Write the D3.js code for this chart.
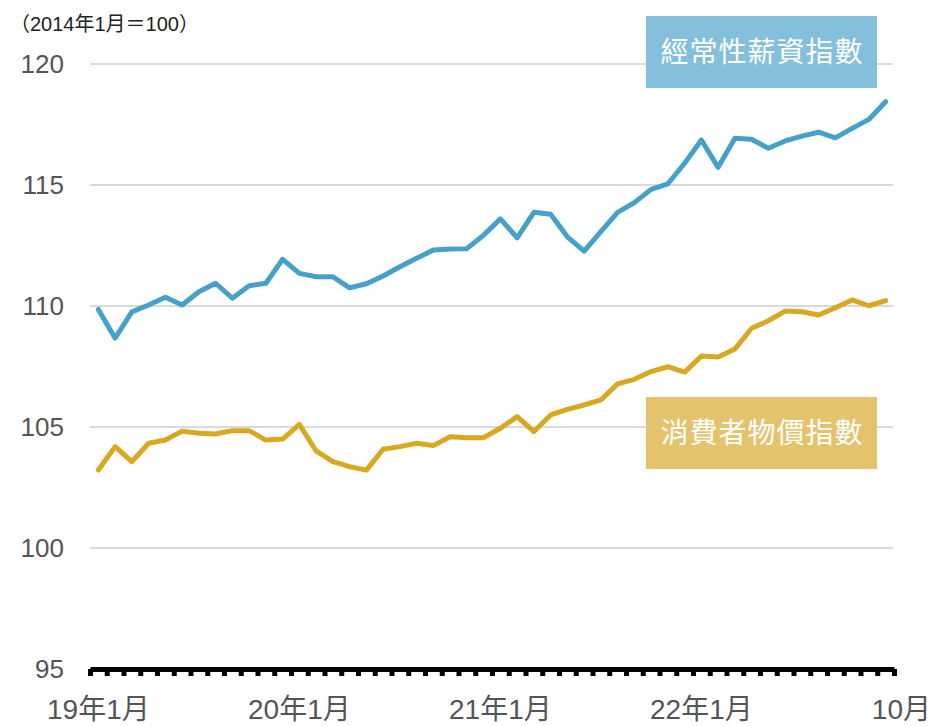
<!DOCTYPE html>
<html>
<head>
<meta charset="utf-8">
<script src="https://cdn.jsdelivr.net/npm/d3@7"></script>
<style>
  body { margin: 0; background: #fff; }
  text { font-family: "Liberation Sans", "Noto Sans CJK TC", sans-serif; }
</style>
</head>
<body>
<svg id="chart" width="932" height="726"></svg>
<script>
// monthly, 2019-01 onward
const months = d3.utcMonth.range(new Date(Date.UTC(2019, 0, 1)), new Date(Date.UTC(2023, 0, 1)));
const wageIndex = [
  109.86, 108.67, 109.76, 110.04, 110.36, 110.04, 110.59, 110.94, 110.32, 110.84,
  110.94, 111.93, 111.35, 111.21, 111.21, 110.75, 110.92, 111.24, 111.62, 111.97,
  112.31, 112.36, 112.37, 112.93, 113.6, 112.82, 113.87, 113.79, 112.86, 112.27,
  113.07, 113.87, 114.27, 114.82, 115.05, 115.9, 116.86, 115.73, 116.93, 116.89,
  116.52, 116.82, 117.02, 117.18, 116.95, 117.34, 117.71, 118.44
];
const cpiIndex = [
  103.22, 104.19, 103.57, 104.33, 104.46, 104.83, 104.74, 104.71, 104.85, 104.85,
  104.46, 104.5, 105.11, 104.01, 103.57, 103.36, 103.22, 104.08, 104.19, 104.33,
  104.23, 104.6, 104.56, 104.56, 104.95, 105.43, 104.81, 105.5, 105.73, 105.91,
  106.12, 106.78, 106.97, 107.29, 107.49, 107.27, 107.93, 107.89, 108.22, 109.08,
  109.39, 109.79, 109.76, 109.63, 109.93, 110.25, 110.01, 110.22
];
const yTicks = [95, 100, 105, 110, 115, 120];
const xLabels = ["19年1月", "20年1月", "21年1月", "22年1月"];
const series = [
  { name: "經常性薪資指數", values: wageIndex, color: "#45a1c9", box: "#84bfdb", boxY: 16 },
  { name: "消費者物價指數", values: cpiIndex, color: "#d9a821", box: "#e3c46d", boxY: 397 }
];

const svg = d3.select("#chart");
const left = 90, right = 894;

const x = d3.scaleBand()
  .domain(months.map(d => +d))
  .range([left, right]);
const xc = i => x(+months[i]) + x.bandwidth() / 2;

const y = d3.scaleLinear()
  .domain([95, 120])
  .range([669, 64]);

// grid
svg.append("g")
  .selectAll("line")
  .data(yTicks.filter(d => d > 95))
  .enter()
  .append("line")
  .attr("x1", left)
  .attr("x2", right - 1)
  .attr("y1", d => y(d))
  .attr("y2", d => y(d))
  .attr("stroke", "#dadada")
  .attr("stroke-width", 2);

// y labels
svg.append("g")
  .selectAll("text")
  .data(yTicks)
  .enter()
  .append("text")
  .attr("x", 64)
  .attr("y", d => y(d))
  .attr("dy", "0.36em")
  .attr("text-anchor", "end")
  .attr("fill", "#555")
  .style("font-size", "26px")
  .text(d => d);

svg.append("text")
  .attr("x", 10)
  .attr("y", 31)
  .attr("fill", "#222")
  .style("font-size", "20px")
  .text("（2014年1月＝100）");

// x axis: band edges as ticks
const edge = d3.scaleLinear().domain([0, months.length]).range([left, right]);
const xAxis = svg.append("g")
  .attr("transform", `translate(0,${y(95)})`)
  .call(d3.axisBottom(edge)
    .tickValues(d3.range(months.length + 1))
    .tickSize(7)
    .tickSizeOuter(0)
    .tickFormat(""));
xAxis.select(".domain").attr("stroke", "#000").attr("stroke-width", 5);
xAxis.selectAll(".tick line").attr("stroke", "#000").attr("stroke-width", 5);

// x labels
svg.append("g")
  .selectAll("text")
  .data(xLabels)
  .enter()
  .append("text")
  .attr("x", (d, i) => xc(i * 12))
  .attr("y", 719)
  .attr("text-anchor", "middle")
  .attr("fill", "#555")
  .style("font-size", "28px")
  .text(d => d);

svg.append("text")
  .attr("x", 931)
  .attr("y", 719)
  .attr("text-anchor", "end")
  .attr("fill", "#555")
  .style("font-size", "28px")
  .text("10月");

// lines
const line = d3.line()
  .x((d, i) => xc(i))
  .y(d => y(d));

series.forEach(s => {
  svg.append("path")
    .datum(s.values)
    .attr("d", line)
    .attr("fill", "none")
    .attr("stroke", s.color)
    .attr("stroke-width", 5)
    .attr("stroke-linejoin", "round")
    .attr("stroke-linecap", "round");
});

// label boxes
series.forEach(s => {
  svg.append("rect")
    .attr("x", 646)
    .attr("y", s.boxY)
    .attr("width", 231)
    .attr("height", 72)
    .attr("fill", s.box);
  svg.append("text")
    .attr("x", 762)
    .attr("y", s.boxY + 36)
    .attr("dy", "0.36em")
    .attr("text-anchor", "middle")
    .attr("fill", "#fff")
    .style("font-family", "'Noto Sans CJK TC', sans-serif")
    .style("font-size", "28px")
    .style("letter-spacing", "1px")
    .text(s.name);
});
</script>
</body>
</html>
